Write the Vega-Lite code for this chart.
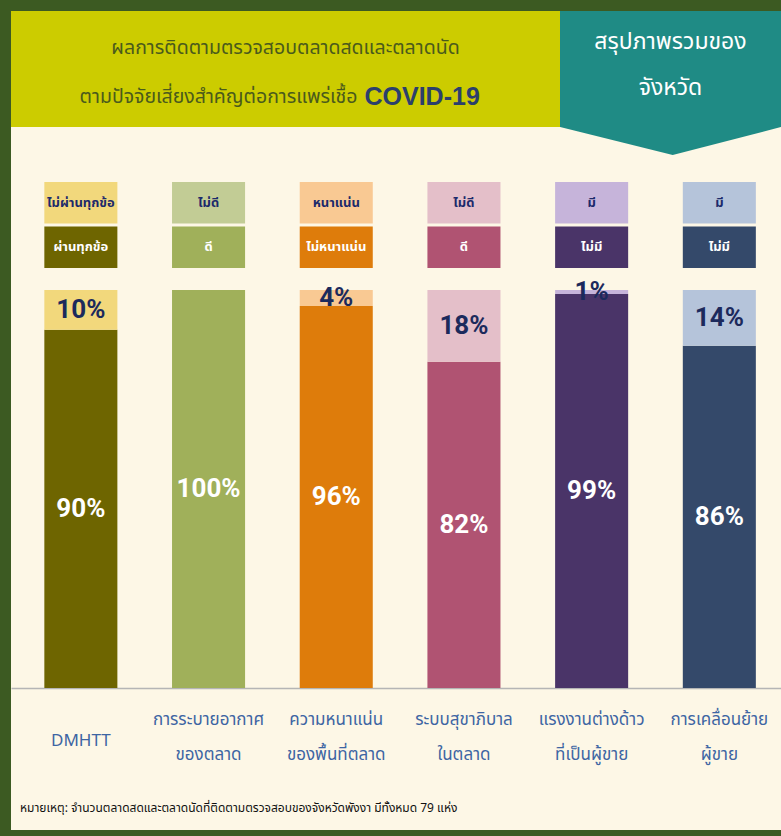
{
  "$schema": "https://vega.github.io/schema/vega-lite/v6.json",
  "background": "#3c5a22",
  "padding": {"left": 11, "top": 11, "right": 0, "bottom": 6},
  "spacing": 0,
  "config": {
    "view": {"stroke": null},
    "concat": {"spacing": 0},
    "font": "Noto Sans Thai, Tahoma, Noto Sans, sans-serif"
  },
  "datasets": {
    "rows": [
      {"cat": "DMHTT", "part": "dark", "key": "k1d", "label": "ผ่านทุกข้อ", "value": 0.90},
      {"cat": "DMHTT", "part": "light", "key": "k1l", "label": "ไม่ผ่านทุกข้อ", "value": 0.10},
      {"cat": "การระบายอากาศ ของตลาด", "part": "dark", "key": "k2d", "label": "ดี", "value": 1.00},
      {"cat": "การระบายอากาศ ของตลาด", "part": "light", "key": "k2l", "label": "ไม่ดี", "value": 0.0},
      {"cat": "ความหนาแน่น ของพื้นที่ตลาด", "part": "dark", "key": "k3d", "label": "ไม่หนาแน่น", "value": 0.96},
      {"cat": "ความหนาแน่น ของพื้นที่ตลาด", "part": "light", "key": "k3l", "label": "หนาแน่น", "value": 0.04},
      {"cat": "ระบบสุขาภิบาล ในตลาด", "part": "dark", "key": "k4d", "label": "ดี", "value": 0.82},
      {"cat": "ระบบสุขาภิบาล ในตลาด", "part": "light", "key": "k4l", "label": "ไม่ดี", "value": 0.18},
      {"cat": "แรงงานต่างด้าว ที่เป็นผู้ขาย", "part": "dark", "key": "k5d", "label": "ไม่มี", "value": 0.99},
      {"cat": "แรงงานต่างด้าว ที่เป็นผู้ขาย", "part": "light", "key": "k5l", "label": "มี", "value": 0.01},
      {"cat": "การเคลื่อนย้าย ผู้ขาย", "part": "dark", "key": "k6d", "label": "ไม่มี", "value": 0.86},
      {"cat": "การเคลื่อนย้าย ผู้ขาย", "part": "light", "key": "k6l", "label": "มี", "value": 0.14}
    ]
  },
  "vconcat": [
    {
      "spacing": 0,
      "hconcat": [
        {
          "spacing": 0,
          "vconcat": [
            {
              "width": 549,
              "height": 116,
              "view": {"fill": "#cccc00", "stroke": null},
              "data": {"values": [
                {"id": "a", "line": "1", "text": "ผลการติดตามตรวจสอบตลาดสดและตลาดนัด"},
                {"id": "b", "line": "2", "text": "ตามปัจจัยเสี่ยงสำคัญต่อการแพร่เชื้อ"},
                {"id": "c", "line": "2", "text": "COVID-19"}
              ]},
              "encoding": {
                "y": {"field": "line", "type": "ordinal", "scale": {"type": "point", "domain": ["1", "2"], "padding": 0.684, "align": 0.552}, "axis": null},
                "text": {"field": "text"}
              },
              "layer": [
                {"transform": [{"filter": "datum.id === 'a'"}], "mark": {"type": "text", "fontSize": 19.5, "color": "#4a5a1c"}},
                {"transform": [{"filter": "datum.id === 'b'"}], "mark": {"type": "text", "fontSize": 19.5, "color": "#4a5a1c", "align": "right", "dx": 72}},
                {"transform": [{"filter": "datum.id === 'c'"}], "mark": {"type": "text", "fontSize": 25, "fontWeight": "bold", "font": "Liberation Sans, Arial, sans-serif", "color": "#2b3f6c", "align": "left", "dx": 79}}
              ]
            },
            {
              "width": 549,
              "height": 28,
              "view": {"fill": "#fdf7e6", "stroke": null},
              "data": {"values": [{}]},
              "mark": {"type": "text", "text": ""},
              "encoding": {}
            }
          ]
        },
        {
          "spacing": 0,
          "vconcat": [
            {
              "width": 221,
              "height": 116,
              "view": {"fill": "#1f8b85", "stroke": null},
              "data": {"values": [
                {"line": "1", "text": "สรุปภาพรวมของ"},
                {"line": "2", "text": "จังหวัด"}
              ]},
              "mark": {"type": "text", "fontSize": 23, "color": "#ffffff"},
              "encoding": {
                "y": {"field": "line", "type": "ordinal", "scale": {"type": "point", "domain": ["1", "2"], "padding": 0.761, "align": 0.443}, "axis": null},
                "text": {"field": "text"}
              }
            },
            {
              "width": 221,
              "height": 28,
              "view": {"fill": "#fdf7e6", "stroke": null},
              "data": {"values": [{}]},
              "mark": {"type": "point", "shape": "M-0.999,-0.1265L0.999,-0.1265L0.02,0.1265Z", "size": 48841, "filled": true, "color": "#1f8b85", "opacity": 1},
              "encoding": {}
            }
          ]
        }
      ]
    },
    {
      "width": 770,
      "height": 675,
      "view": {"fill": "#fdf7e6", "stroke": null},
      "data": {"name": "rows"},
      "title": {
        "text": "หมายเหตุ: จำนวนตลาดสดและตลาดนัดที่ติดตามตรวจสอบของจังหวัดพังงา มีทั้งหมด 79 แห่ง",
        "orient": "bottom",
        "anchor": "start",
        "offset": -22,
        "dx": 9,
        "baseline": "middle",
        "fontSize": 12,
        "fontWeight": "normal",
        "color": "#111111"
      },
      "encoding": {
        "x": {
          "field": "cat",
          "type": "nominal",
          "sort": null,
          "scale": {"paddingInner": 0.428, "paddingOuter": 0.229, "align": 0.57},
          "axis": {
            "title": null,
            "offset": -142,
            "labelAngle": 0,
            "ticks": false,
            "tickSize": 0,
            "grid": false,
            "domainColor": "#b5b5b5",
            "domainWidth": 1.5,
            "labelExpr": "split(datum.label, ' ')",
            "labelBaseline": "middle",
            "labelPadding": {"condition": {"test": "datum.value === 'DMHTT'", "value": 52}, "value": 31},
            "labelLineHeight": 35,
            "labelFontSize": 17,
            "labelColor": "#3d65a3",
            "labelFontWeight": "normal",
            "labelLimit": 0
          }
        }
      },
      "layer": [
        {
          "mark": {"type": "bar"},
          "encoding": {
            "y": {"field": "value", "type": "quantitative", "stack": "zero", "scale": {"domain": [0, 1], "range": [533, 135], "nice": false, "zero": false}, "axis": null},
            "color": {
              "field": "key",
              "type": "nominal",
              "scale": {
                "domain": ["k1d", "k1l", "k2d", "k2l", "k3d", "k3l", "k4d", "k4l", "k5d", "k5l", "k6d", "k6l"],
                "range": ["#6e6500", "#f2d87c", "#a0b05a", "#c2cc95", "#de7c0b", "#f9c993", "#b05372", "#e4bfc9", "#4a3468", "#c6b4da", "#34496a", "#b5c4da"]
              },
              "legend": null
            },
            "order": {"field": "part", "sort": "ascending"}
          }
        },
        {
          "transform": [
            {"filter": "datum.value > 0"},
            {"stack": "value", "groupby": ["cat"], "sort": [{"field": "part", "order": "ascending"}], "as": ["v0", "v1"]},
            {"calculate": "(datum.v0 + datum.v1) / 2", "as": "mid"}
          ],
          "mark": {"type": "text", "font": "Roboto, sans-serif", "fontSize": 26, "fontWeight": "bold"},
          "encoding": {
            "y": {"field": "mid", "type": "quantitative", "scale": {"domain": [0, 1], "range": [533, 135], "nice": false, "zero": false}, "axis": null},
            "text": {"field": "value", "type": "quantitative", "format": ".0%"},
            "color": {"condition": {"test": "datum.part === 'dark'", "value": "#ffffff"}, "value": "#1c2a5c"}
          }
        },
        {
          "mark": {"type": "rect"},
          "encoding": {
            "y": {"field": "part", "type": "nominal", "scale": {"type": "band", "domain": ["light", "dark"], "range": [27, 113], "paddingInner": 0.07, "paddingOuter": 0}, "axis": null},
            "color": {
              "field": "key",
              "type": "nominal",
              "scale": {
                "domain": ["k1d", "k1l", "k2d", "k2l", "k3d", "k3l", "k4d", "k4l", "k5d", "k5l", "k6d", "k6l"],
                "range": ["#6e6500", "#f2d87c", "#a0b05a", "#c2cc95", "#de7c0b", "#f9c993", "#b05372", "#e4bfc9", "#4a3468", "#c6b4da", "#34496a", "#b5c4da"]
              },
              "legend": null
            }
          }
        },
        {
          "mark": {"type": "text", "fontSize": 13, "fontWeight": "bold"},
          "encoding": {
            "y": {"field": "part", "type": "nominal", "scale": {"type": "band", "domain": ["light", "dark"], "range": [27, 113], "paddingInner": 0.07, "paddingOuter": 0}, "axis": null},
            "text": {"field": "label"},
            "color": {"condition": {"test": "datum.part === 'dark'", "value": "#ffffff"}, "value": "#1c2a6b"}
          }
        }
      ],
      "resolve": {"scale": {"y": "independent"}}
    }
  ]
}
